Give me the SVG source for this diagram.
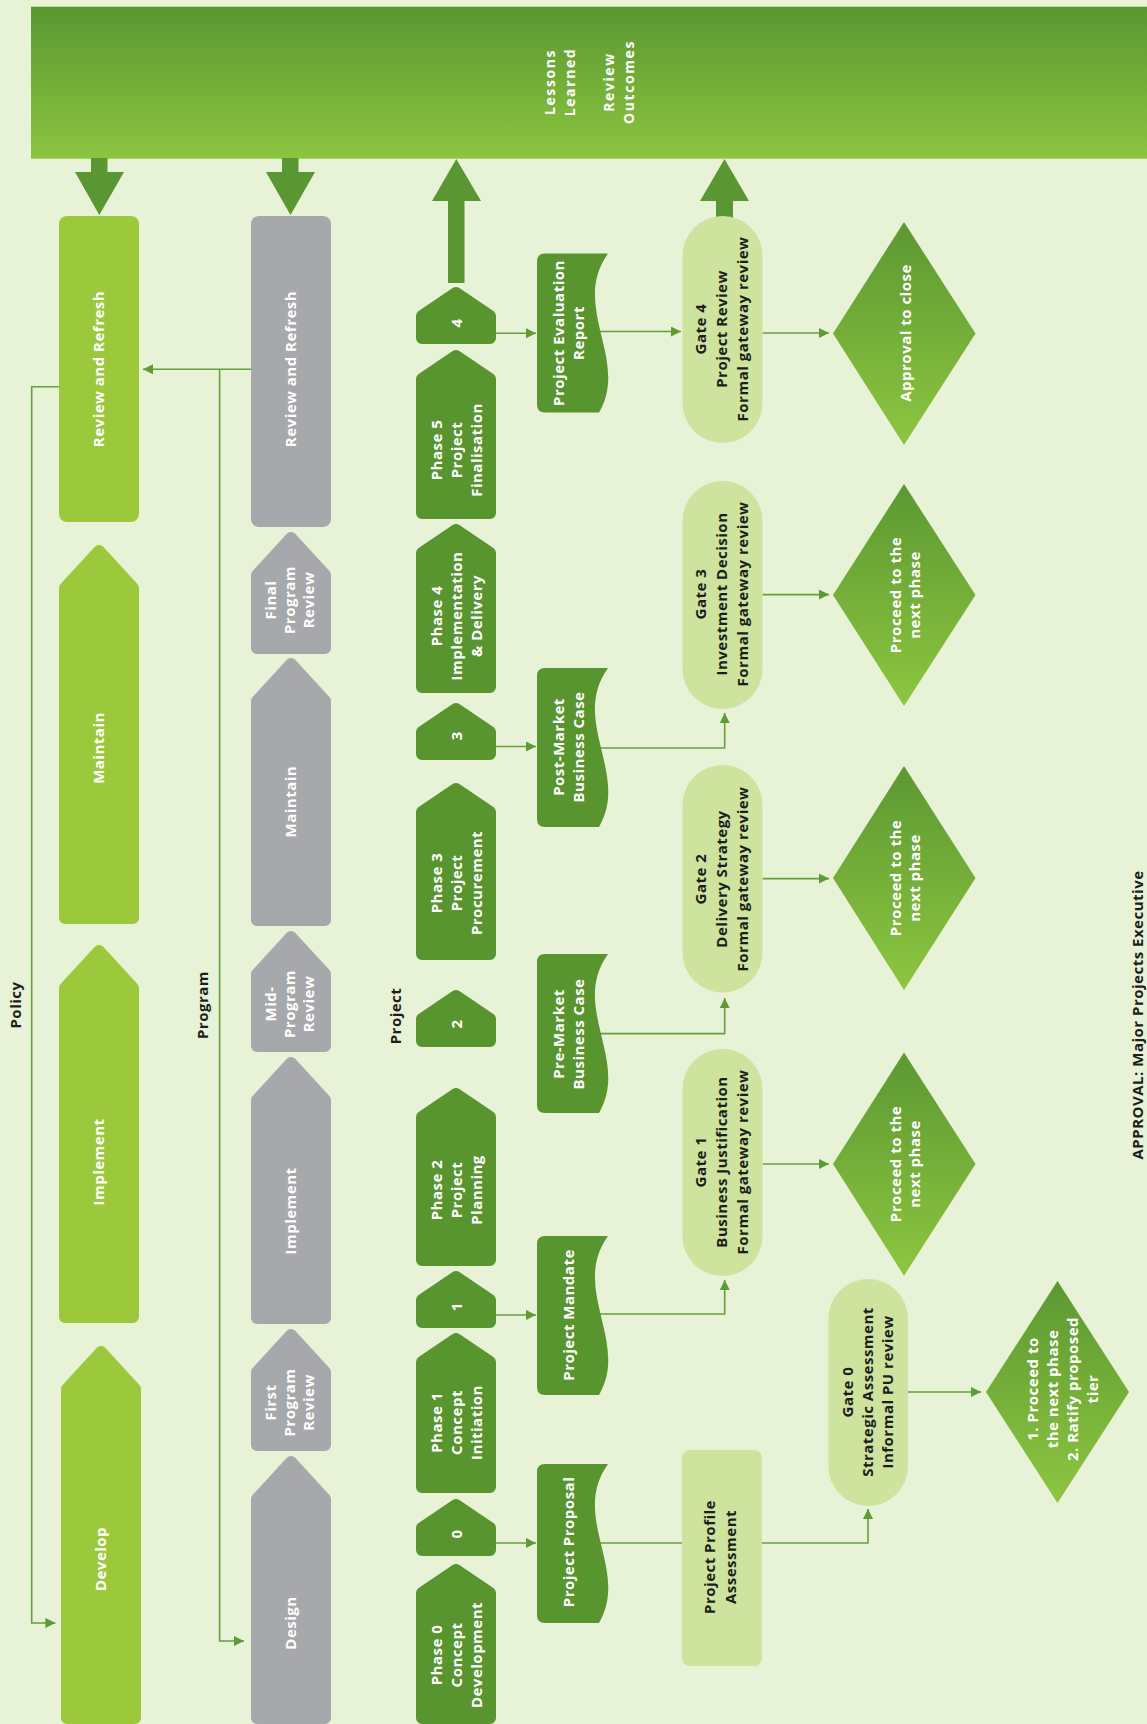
<svg xmlns="http://www.w3.org/2000/svg" width="1147" height="1724" viewBox="0 0 1147 1724">
  <defs>
    <linearGradient id="bannerFill" x1="0" y1="0" x2="0" y2="1">
      <stop offset="0" stop-color="#5b9731"/>
      <stop offset="1" stop-color="#8cc540"/>
    </linearGradient>
    <linearGradient id="decisionFill" x1="0" y1="0" x2="0" y2="1">
      <stop offset="0" stop-color="#5c9832"/>
      <stop offset="1" stop-color="#8dc640"/>
    </linearGradient>
    <marker id="arrow" viewBox="0 0 10 10" refX="10" refY="5" markerWidth="10" markerHeight="10" markerUnits="userSpaceOnUse" orient="auto">
      <path d="M0,0 L10,5 L0,10 Z" fill="#5e9b36"/>
    </marker>
    <!-- document shape, wavy right edge, 159 tall -->
    <path id="doc" d="M545,0 H608 C570,53 630,106 599,159 H545 Q537,159 537,151 V8 Q537,0 545,0 Z"/>
    <style>
      .policy{fill:#9bc93b;stroke:#9bc93b;stroke-width:12;stroke-linejoin:round}
      .program{fill:#a7a8ac;stroke:#a7a8ac;stroke-width:12;stroke-linejoin:round}
      .project{fill:#58952f;stroke:#58952f;stroke-width:12;stroke-linejoin:round}
      .docshape{fill:#58952f}
      .gate{fill:#cde39e}
      .decision{fill:url(#decisionFill)}
      .link{fill:none;stroke:#65a03c;stroke-width:1.6}
      .bigarrow{fill:#5a9631}
      .t{font-family:"Open Sans","Liberation Sans",sans-serif;font-weight:700;font-size:15px;letter-spacing:0.5px;text-anchor:middle}
      .b{font-family:"Open Sans","Liberation Sans",sans-serif;font-weight:700;font-size:14px;letter-spacing:1.6px;text-anchor:middle;fill:#fff}
      .w{fill:#ffffff}
      .k{fill:#1d1d1b}
    </style>
  </defs>

  <rect x="0" y="0" width="1147" height="1724" fill="#e7f2d6"/>

  <!-- top band -->
  <g id="outcomes-band">
    <rect x="31" y="6.7" width="1116" height="152" fill="url(#bannerFill)"/>
    <text class="b" transform="translate(559.6 82) rotate(-90)"><tspan x="0" y="-5">Lessons</tspan><tspan x="0" y="15">Learned</tspan></text>
    <text class="b" transform="translate(619 82) rotate(-90)"><tspan x="0" y="-5">Review</tspan><tspan x="0" y="15">Outcomes</tspan></text>
  </g>

  <!-- connectors -->
  <g id="connectors">
    <polygon class="bigarrow" points="91,158 107.5,158 107.5,172 124,172 99.3,215 75,172 91,172"/>
    <polygon class="bigarrow" points="282,158 298.5,158 298.5,172 315,172 290.5,215 266,172 282,172"/>
    <polygon class="bigarrow" points="448,283 448,201 432,201 456.3,159 481,201 464.5,201 464.5,283"/>
    <polygon class="bigarrow" points="716,220 716,201 700,201 724.5,159 749,201 733,201 733,220"/>

    <path class="link" d="M496,333.3 H536" marker-end="url(#arrow)"/>
    <path class="link" d="M496,746.5 H536" marker-end="url(#arrow)"/>
    <path class="link" d="M496,1315 H536" marker-end="url(#arrow)"/>
    <path class="link" d="M496,1543 H536" marker-end="url(#arrow)"/>

    <path class="link" d="M590,331.5 H681" marker-end="url(#arrow)"/>
    <path class="link" d="M590,748 H724.7 V713" marker-end="url(#arrow)"/>
    <path class="link" d="M590,1033.6 H724.7 V998" marker-end="url(#arrow)"/>
    <path class="link" d="M590,1314 H724.7 V1280" marker-end="url(#arrow)"/>
    <path class="link" d="M590,1543 H682"/>
    <path class="link" d="M762,1543 H868 V1509" marker-end="url(#arrow)"/>

    <path class="link" d="M762.6,333 H829" marker-end="url(#arrow)"/>
    <path class="link" d="M762.6,594.6 H829" marker-end="url(#arrow)"/>
    <path class="link" d="M762.6,878.6 H829" marker-end="url(#arrow)"/>
    <path class="link" d="M762.6,1164 H829" marker-end="url(#arrow)"/>
    <path class="link" d="M907.8,1392 H981" marker-end="url(#arrow)"/>

    <path class="link" d="M251,369.3 H143" marker-end="url(#arrow)"/>
    <path class="link" d="M219.6,369.3 V1641 H244" marker-end="url(#arrow)"/>
    <path class="link" d="M59,386.7 H31.7 V1623 H55.4" marker-end="url(#arrow)"/>
  </g>

  <!-- lane titles -->
  <g id="lane-titles">
    <text class="t k" transform="translate(16 1005) rotate(-90)" y="5.4">Policy</text>
    <text class="t k" transform="translate(203 1005) rotate(-90)" y="5.4">Program</text>
    <text class="t k" transform="translate(396 1016) rotate(-90)" y="5.4">Project</text>
    <text class="t k" transform="translate(1142.5 1015) rotate(-90)" y="0">APPROVAL: Major Projects Executive</text>
  </g>

  <!-- policy lane -->
  <g id="policy-review">
    <rect x="59" y="216" width="80" height="306" rx="8" fill="#9bc93b"/>
    <text class="t w" transform="translate(99 369) rotate(-90)" y="5.4">Review and Refresh</text>
  </g>
  <g id="policy-maintain">
    <polygon class="policy" points="99,551 133,588 133,918 65,918 65,588"/>
    <text class="t w" transform="translate(99 748) rotate(-90)" y="5.4">Maintain</text>
  </g>
  <g id="policy-implement">
    <polygon class="policy" points="99,951 133,988 133,1317 65,1317 65,988"/>
    <text class="t w" transform="translate(99 1162) rotate(-90)" y="5.4">Implement</text>
  </g>
  <g id="policy-develop">
    <polygon class="policy" points="101,1352 135,1389 135,1718 67,1718 67,1389"/>
    <text class="t w" transform="translate(101 1559) rotate(-90)" y="5.4">Develop</text>
  </g>

  <!-- program lane -->
  <g id="program-review">
    <rect x="251" y="216" width="80" height="311" rx="8" fill="#a7a8ac"/>
    <text class="t w" transform="translate(291 369) rotate(-90)" y="5.4">Review and Refresh</text>
  </g>
  <g id="program-final-review">
    <polygon class="program" points="291,538 325,575 325,648 257,648 257,575"/>
    <text class="t w" transform="translate(290 600) rotate(-90)"><tspan x="0" y="-13.6">Final</tspan><tspan x="0" y="5.4">Program</tspan><tspan x="0" y="24.4">Review</tspan></text>
  </g>
  <g id="program-maintain">
    <polygon class="program" points="291,664 325,701 325,920 257,920 257,701"/>
    <text class="t w" transform="translate(291 801.6) rotate(-90)" y="5.4">Maintain</text>
  </g>
  <g id="program-mid-review">
    <polygon class="program" points="291,937 325,974 325,1046 257,1046 257,974"/>
    <text class="t w" transform="translate(290 1004) rotate(-90)"><tspan x="0" y="-13.6">Mid-</tspan><tspan x="0" y="5.4">Program</tspan><tspan x="0" y="24.4">Review</tspan></text>
  </g>
  <g id="program-implement">
    <polygon class="program" points="291,1063 325,1100 325,1318 257,1318 257,1100"/>
    <text class="t w" transform="translate(291 1211) rotate(-90)" y="5.4">Implement</text>
  </g>
  <g id="program-first-review">
    <polygon class="program" points="291,1335 325,1372 325,1445 257,1445 257,1372"/>
    <text class="t w" transform="translate(290 1402.5) rotate(-90)"><tspan x="0" y="-13.6">First</tspan><tspan x="0" y="5.4">Program</tspan><tspan x="0" y="24.4">Review</tspan></text>
  </g>
  <g id="program-design">
    <polygon class="program" points="291,1462 325,1499 325,1718 257,1718 257,1499"/>
    <text class="t w" transform="translate(291 1623) rotate(-90)" y="5.4">Design</text>
  </g>

  <!-- project lane -->
  <g id="project-step-4">
    <polygon class="project" points="456,293 490,316 490,338 422,338 422,316"/>
    <text class="t w" transform="translate(457 323) rotate(-90)" y="5.4">4</text>
  </g>
  <g id="project-phase-5">
    <polygon class="project" points="456,356 490,379 490,513 422,513 422,379"/>
    <text class="t w" transform="translate(457 450) rotate(-90)"><tspan x="0" y="-14.6">Phase 5</tspan><tspan x="0" y="5.4">Project</tspan><tspan x="0" y="25.4">Finalisation</tspan></text>
  </g>
  <g id="project-phase-4">
    <polygon class="project" points="456,530 490,553 490,687 422,687 422,553"/>
    <text class="t w" transform="translate(457 616) rotate(-90)"><tspan x="0" y="-14.6">Phase 4</tspan><tspan x="0" y="5.4">Implementation</tspan><tspan x="0" y="25.4">&amp; Delivery</tspan></text>
  </g>
  <g id="project-step-3">
    <polygon class="project" points="456,709 490,732 490,754 422,754 422,732"/>
    <text class="t w" transform="translate(457 735.7) rotate(-90)" y="5.4">3</text>
  </g>
  <g id="project-phase-3">
    <polygon class="project" points="456,789 490,812 490,954 422,954 422,812"/>
    <text class="t w" transform="translate(457 883) rotate(-90)"><tspan x="0" y="-14.6">Phase 3</tspan><tspan x="0" y="5.4">Project</tspan><tspan x="0" y="25.4">Procurement</tspan></text>
  </g>
  <g id="project-step-2">
    <polygon class="project" points="456,996 490,1019 490,1041 422,1041 422,1019"/>
    <text class="t w" transform="translate(457 1024) rotate(-90)" y="5.4">2</text>
  </g>
  <g id="project-phase-2">
    <polygon class="project" points="456,1094 490,1117 490,1260 422,1260 422,1117"/>
    <text class="t w" transform="translate(457 1190) rotate(-90)"><tspan x="0" y="-14.6">Phase 2</tspan><tspan x="0" y="5.4">Project</tspan><tspan x="0" y="25.4">Planning</tspan></text>
  </g>
  <g id="project-step-1">
    <polygon class="project" points="456,1277 490,1300 490,1322 422,1322 422,1300"/>
    <text class="t w" transform="translate(457 1306.7) rotate(-90)" y="5.4">1</text>
  </g>
  <g id="project-phase-1">
    <polygon class="project" points="456,1339 490,1362 490,1487 422,1487 422,1362"/>
    <text class="t w" transform="translate(457 1422.5) rotate(-90)"><tspan x="0" y="-14.6">Phase 1</tspan><tspan x="0" y="5.4">Concept</tspan><tspan x="0" y="25.4">Initiation</tspan></text>
  </g>
  <g id="project-step-0">
    <polygon class="project" points="456,1505 490,1528 490,1550 422,1550 422,1528"/>
    <text class="t w" transform="translate(457 1534) rotate(-90)" y="5.4">0</text>
  </g>
  <g id="project-phase-0">
    <polygon class="project" points="456,1570 490,1593 490,1718 422,1718 422,1593"/>
    <text class="t w" transform="translate(457 1655) rotate(-90)"><tspan x="0" y="-14.6">Phase 0</tspan><tspan x="0" y="5.4">Concept</tspan><tspan x="0" y="25.4">Development</tspan></text>
  </g>

  <!-- documents -->
  <g id="doc-evaluation-report">
    <use href="#doc" class="docshape" transform="translate(0 253.6)"/>
    <text class="t w" transform="translate(568.6 333) rotate(-90)"><tspan x="0" y="-4.6">Project Evaluation</tspan><tspan x="0" y="15.4">Report</tspan></text>
  </g>
  <g id="doc-post-market">
    <use href="#doc" class="docshape" transform="translate(0 668)"/>
    <text class="t w" transform="translate(568.6 747) rotate(-90)"><tspan x="0" y="-4.6">Post-Market</tspan><tspan x="0" y="15.4">Business Case</tspan></text>
  </g>
  <g id="doc-pre-market">
    <use href="#doc" class="docshape" transform="translate(0 954)"/>
    <text class="t w" transform="translate(568.6 1034) rotate(-90)"><tspan x="0" y="-4.6">Pre-Market</tspan><tspan x="0" y="15.4">Business Case</tspan></text>
  </g>
  <g id="doc-mandate">
    <use href="#doc" class="docshape" transform="translate(0 1236)"/>
    <text class="t w" transform="translate(569 1315) rotate(-90)" y="5.4">Project Mandate</text>
  </g>
  <g id="doc-proposal">
    <use href="#doc" class="docshape" transform="translate(0 1464)"/>
    <text class="t w" transform="translate(569 1542) rotate(-90)" y="5.4">Project Proposal</text>
  </g>

  <!-- gateway reviews -->
  <g id="gate-4">
    <rect class="gate" x="682.5" y="216" width="80" height="227" rx="40"/>
    <text class="t k" transform="translate(722 329) rotate(-90)"><tspan x="0" y="-15.6">Gate 4</tspan><tspan x="0" y="5.4">Project Review</tspan><tspan x="0" y="26.4">Formal gateway review</tspan></text>
  </g>
  <g id="gate-3">
    <rect class="gate" x="682.5" y="481" width="80" height="228" rx="40"/>
    <text class="t k" transform="translate(722 594) rotate(-90)"><tspan x="0" y="-15.6">Gate 3</tspan><tspan x="0" y="5.4">Investment Decision</tspan><tspan x="0" y="26.4">Formal gateway review</tspan></text>
  </g>
  <g id="gate-2">
    <rect class="gate" x="682.5" y="765" width="80" height="227.5" rx="40"/>
    <text class="t k" transform="translate(722 879) rotate(-90)"><tspan x="0" y="-15.6">Gate 2</tspan><tspan x="0" y="5.4">Delivery Strategy</tspan><tspan x="0" y="26.4">Formal gateway review</tspan></text>
  </g>
  <g id="gate-1">
    <rect class="gate" x="682.5" y="1049" width="80" height="227" rx="40"/>
    <text class="t k" transform="translate(722 1162) rotate(-90)"><tspan x="0" y="-15.6">Gate 1</tspan><tspan x="0" y="5.4">Business Justification</tspan><tspan x="0" y="26.4">Formal gateway review</tspan></text>
  </g>
  <g id="gate-0">
    <rect class="gate" x="828.4" y="1279" width="79.5" height="227" rx="39.75"/>
    <text class="t k" transform="translate(868 1392) rotate(-90)"><tspan x="0" y="-14.6">Gate 0</tspan><tspan x="0" y="5.4">Strategic Assessment</tspan><tspan x="0" y="25.4">Informal PU review</tspan></text>
  </g>
  <g id="profile-assessment">
    <rect class="gate" x="682" y="1450" width="80" height="216" rx="8"/>
    <text class="t k" transform="translate(720.5 1557) rotate(-90)"><tspan x="0" y="-5.1">Project Profile</tspan><tspan x="0" y="15.9">Assessment</tspan></text>
  </g>

  <!-- decisions -->
  <g id="decision-close">
    <polygon class="decision" points="904,222 975.5,333.5 904,445 833,333.5"/>
    <text class="t w" transform="translate(906 333) rotate(-90)" y="5.4">Approval to close</text>
  </g>
  <g id="decision-3">
    <polygon class="decision" points="904,484 975.5,595 904,706 833,595"/>
    <text class="t w" transform="translate(905 595) rotate(-90)"><tspan x="0" y="-4.35">Proceed to the</tspan><tspan x="0" y="15.15">next phase</tspan></text>
  </g>
  <g id="decision-2">
    <polygon class="decision" points="904,766 975.5,878 904,990 833,878"/>
    <text class="t w" transform="translate(905 878) rotate(-90)"><tspan x="0" y="-4.35">Proceed to the</tspan><tspan x="0" y="15.15">next phase</tspan></text>
  </g>
  <g id="decision-1">
    <polygon class="decision" points="904,1052.5 975.5,1164 904,1275.7 833,1164"/>
    <text class="t w" transform="translate(905 1164) rotate(-90)"><tspan x="0" y="-4.35">Proceed to the</tspan><tspan x="0" y="15.15">next phase</tspan></text>
  </g>
  <g id="decision-0">
    <polygon class="decision" points="1057.5,1281 1129,1392 1057.5,1503 986,1392"/>
    <text class="t w" transform="translate(1062.7 1389) rotate(-90)"><tspan x="0" y="-24.6">1. Proceed to</tspan><tspan x="0" y="-4.6">the next phase</tspan><tspan x="0" y="15.4">2. Ratify proposed</tspan><tspan x="0" y="35.4">tier</tspan></text>
  </g>
</svg>
